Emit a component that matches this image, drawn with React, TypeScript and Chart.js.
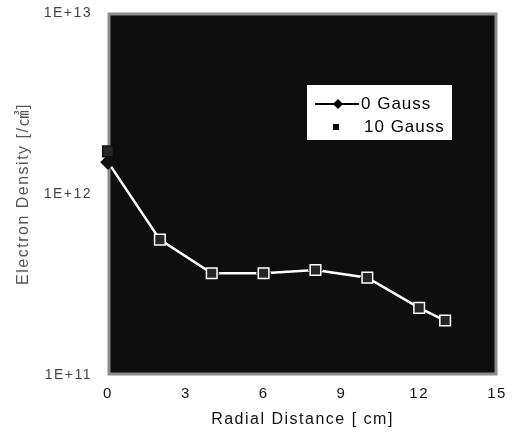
import React, { useEffect, useRef } from "react";
import { Chart, registerables } from "chart.js";

Chart.register(...registerables);

const radialDistance = [0, 2, 4, 6, 8, 10, 12, 13];
const gauss0 = [1.5e12, 5.6e11, 3.65e11, 3.65e11, 3.8e11, 3.45e11, 2.35e11, 2.0e11];
const gauss10 = [1.72e12, 5.6e11, 3.65e11, 3.65e11, 3.8e11, 3.45e11, 2.35e11, 2.0e11];
const seriesNames = ["0 Gauss", "10 Gauss"];
const xTitle = "Radial Distance [ cm]";
const yTitle = "Electron Density [/㎤]";

const FONT = "'Liberation Sans', Arial, 'Noto Sans CJK JP', sans-serif";

const spacing = {
  id: "spacing",
  beforeDraw(chart: any) {
    (chart.ctx as any).letterSpacing = "1.5px";
  },
};

const plotBg = {
  id: "plotBg",
  beforeDatasetsDraw(chart: any) {
    const { ctx, chartArea: a } = chart;
    ctx.save();
    ctx.fillStyle = "#0e0e0e";
    ctx.fillRect(a.left, a.top, a.right - a.left, a.bottom - a.top);
    ctx.strokeStyle = "#8c8c8c";
    ctx.lineWidth = 3;
    ctx.strokeRect(a.left + 1, a.top + 1, a.right - a.left - 2, a.bottom - a.top - 2);
    ctx.restore();
  },
};

const legendBox = {
  id: "legendBox",
  afterDraw(chart: any) {
    const { ctx } = chart;
    ctx.save();
    ctx.fillStyle = "#ffffff";
    ctx.fillRect(307, 85, 145, 55);
    ctx.strokeStyle = "#000";
    ctx.lineWidth = 2;
    ctx.beginPath();
    ctx.moveTo(315, 104);
    ctx.lineTo(359, 104);
    ctx.stroke();
    ctx.fillStyle = "#000";
    ctx.beginPath();
    ctx.moveTo(338, 99);
    ctx.lineTo(343, 104);
    ctx.lineTo(338, 109);
    ctx.lineTo(333, 104);
    ctx.closePath();
    ctx.fill();
    ctx.fillRect(333, 124, 6, 6);
    ctx.font = `17px ${FONT}`;
    (ctx as any).letterSpacing = "1px";
    ctx.textBaseline = "middle";
    ctx.textAlign = "left";
    ctx.fillText(seriesNames[0], 361, 104);
    ctx.fillText(seriesNames[1], 364, 127);
    ctx.restore();
  },
};

export default function App() {
  const ref = useRef<HTMLCanvasElement>(null);
  useEffect(() => {
    if (!ref.current) return;
    const chart = new Chart(ref.current, {
      type: "line",
      data: {
        labels: radialDistance,
        datasets: [
          {
            label: seriesNames[0],
            data: radialDistance.map((x, i) => ({ x, y: gauss0[i] })),
            borderColor: "#ffffff",
            borderWidth: 2.5,
            pointStyle: "rectRot",
            pointRadius: 6,
            pointBackgroundColor: "#111",
            pointBorderColor: "#111",
            fill: false,
            tension: 0,
            clip: false as any,
            order: 2,
          },
          {
            label: seriesNames[1],
            data: radialDistance.map((x, i) => ({ x, y: gauss10[i] })),
            showLine: false,
            pointStyle: "rect",
            pointRadius: 7.5,
            pointBackgroundColor: "#262626",
            pointBorderColor: radialDistance.map((_, i) => (i === 0 ? "#111" : "#ffffff")),
            pointBorderWidth: 1.5,
            clip: false as any,
            order: 1,
          },
        ],
      },
      options: {
        animation: false,
        responsive: false,
        events: [],
        layout: { padding: { left: 10, top: 13, right: 17, bottom: 3 }, autoPadding: false } as any,
        plugins: { legend: { display: false }, tooltip: { enabled: false } },
        scales: {
          x: {
            type: "linear",
            min: 0,
            max: 15,
            grid: { display: false, drawTicks: false },
            border: { display: false },
            ticks: {
              stepSize: 3,
              padding: 10,
              color: "#111",
              font: { family: FONT, size: 15 },
              maxRotation: 0,
            },
            title: {
              display: true,
              text: xTitle,
              color: "#111",
              font: { family: FONT, size: 16 },
              padding: { top: 2, bottom: 4 },
            },
            afterFit(scale: any) {
              scale.height = 58;
              scale.paddingLeft = 0;
              scale.paddingRight = 0;
            },
          },
          y: {
            type: "logarithmic",
            min: 1e11,
            max: 1e13,
            grid: { display: false, drawTicks: false },
            border: { display: false },
            ticks: {
              padding: 16,
              color: "#444",
              font: { family: FONT, size: 14 },
              autoSkip: false,
              callback(value: any) {
                const e = Math.log10(Number(value));
                if (Math.abs(e - Math.round(e)) < 1e-9) return "1E+" + Math.round(e);
                return "";
              },
            },
            title: {
              display: true,
              text: yTitle,
              color: "#555",
              font: { family: FONT, size: 16 },
              padding: { top: 4, bottom: 4 },
            },
            afterFit(scale: any) {
              scale.width = 98;
              scale.paddingTop = 0;
              scale.paddingBottom = 0;
            },
          },
        },
      },
      plugins: [spacing, plotBg, legendBox],
    });
    return () => chart.destroy();
  }, []);
  return (
    <div style={{ position: "fixed", left: 0, top: 0, width: 514, height: 436, background: "#fff" }}>
      <canvas ref={ref} width={514} height={436} style={{ display: "block" }} />
    </div>
  );
}
